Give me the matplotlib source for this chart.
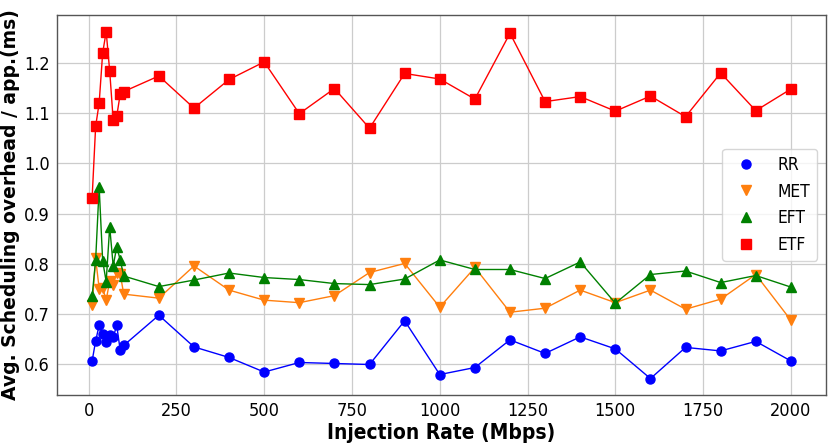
import matplotlib
matplotlib.use("Agg")
import matplotlib.pyplot as plt
from matplotlib.lines import Line2D

plt.rcParams['font.family'] = ['DejaVu Sans']
plt.rcParams['font.stretch'] = 'condensed'

rates = [10, 20, 30, 40, 50, 60, 70, 80, 90, 100,
         200, 300, 400, 500, 600, 700, 800, 900, 1000,
         1100, 1200, 1300, 1400, 1500, 1600, 1700, 1800, 1900, 2000]

rr = [0.607, 0.647, 0.678, 0.660, 0.645, 0.658, 0.654, 0.678, 0.628, 0.638,
      0.698, 0.635, 0.614, 0.585, 0.604, 0.602, 0.600, 0.687, 0.580,
      0.594, 0.649, 0.622, 0.655, 0.631, 0.572, 0.634, 0.627, 0.646, 0.607]

met = [0.718, 0.811, 0.751, 0.752, 0.728, 0.766, 0.758, 0.782, 0.780, 0.740,
       0.732, 0.796, 0.748, 0.728, 0.723, 0.737, 0.783, 0.801, 0.714,
       0.793, 0.704, 0.712, 0.748, 0.723, 0.748, 0.710, 0.730, 0.779, 0.688]

eft = [0.736, 0.808, 0.953, 0.806, 0.765, 0.874, 0.796, 0.834, 0.808, 0.776,
       0.755, 0.768, 0.782, 0.773, 0.769, 0.761, 0.759, 0.770, 0.808,
       0.789, 0.789, 0.771, 0.804, 0.722, 0.779, 0.786, 0.763, 0.777, 0.754]

etf = [0.932, 1.074, 1.120, 1.220, 1.262, 1.184, 1.086, 1.094, 1.138, 1.143,
       1.174, 1.110, 1.167, 1.202, 1.099, 1.149, 1.070, 1.179, 1.168,
       1.128, 1.259, 1.123, 1.133, 1.104, 1.134, 1.093, 1.180, 1.105, 1.148]

series = [("RR", rr, "blue", "o"),
          ("MET", met, "#ff7f0e", "v"),
          ("EFT", eft, "green", "^"),
          ("ETF", etf, "red", "s")]

fig = plt.figure(figsize=(8.3, 4.44), dpi=100)
ax = fig.add_axes([0.0687, 0.110, 0.9265, 0.857])

handles = []
for name, vals, col, mk in series:
    ax.plot(rates, vals, color=col, marker=mk, markersize=6.5, linewidth=1.0)
    handles.append(Line2D([], [], color=col, marker=mk, linestyle='none',
                          markersize=6.5, label=name))

ax.set_xlim(-90, 2100)
ax.set_ylim(0.539, 1.296)
ax.set_xticks([0, 250, 500, 750, 1000, 1250, 1500, 1750, 2000])
ax.set_yticks([0.6, 0.7, 0.8, 0.9, 1.0, 1.1, 1.2])
ax.grid(True, color='#cccccc', linewidth=0.9)
ax.set_axisbelow(True)
ax.tick_params(axis='both', length=0, labelsize=13, pad=5)
for s in ax.spines.values():
    s.set_color('#555555')
    s.set_linewidth(1.0)

ax.set_xlabel("Injection Rate (Mbps)", fontsize=15, fontweight='bold', labelpad=2)
ax.set_ylabel("Avg. Scheduling overhead / app.(ms)", fontsize=13.5,
              fontweight='bold', fontstretch='normal', labelpad=3)

ax.legend(handles=handles, loc='center right', fontsize=12.5, frameon=True,
          framealpha=0.8, edgecolor='#cccccc')

fig.savefig("out.png", dpi=100)
